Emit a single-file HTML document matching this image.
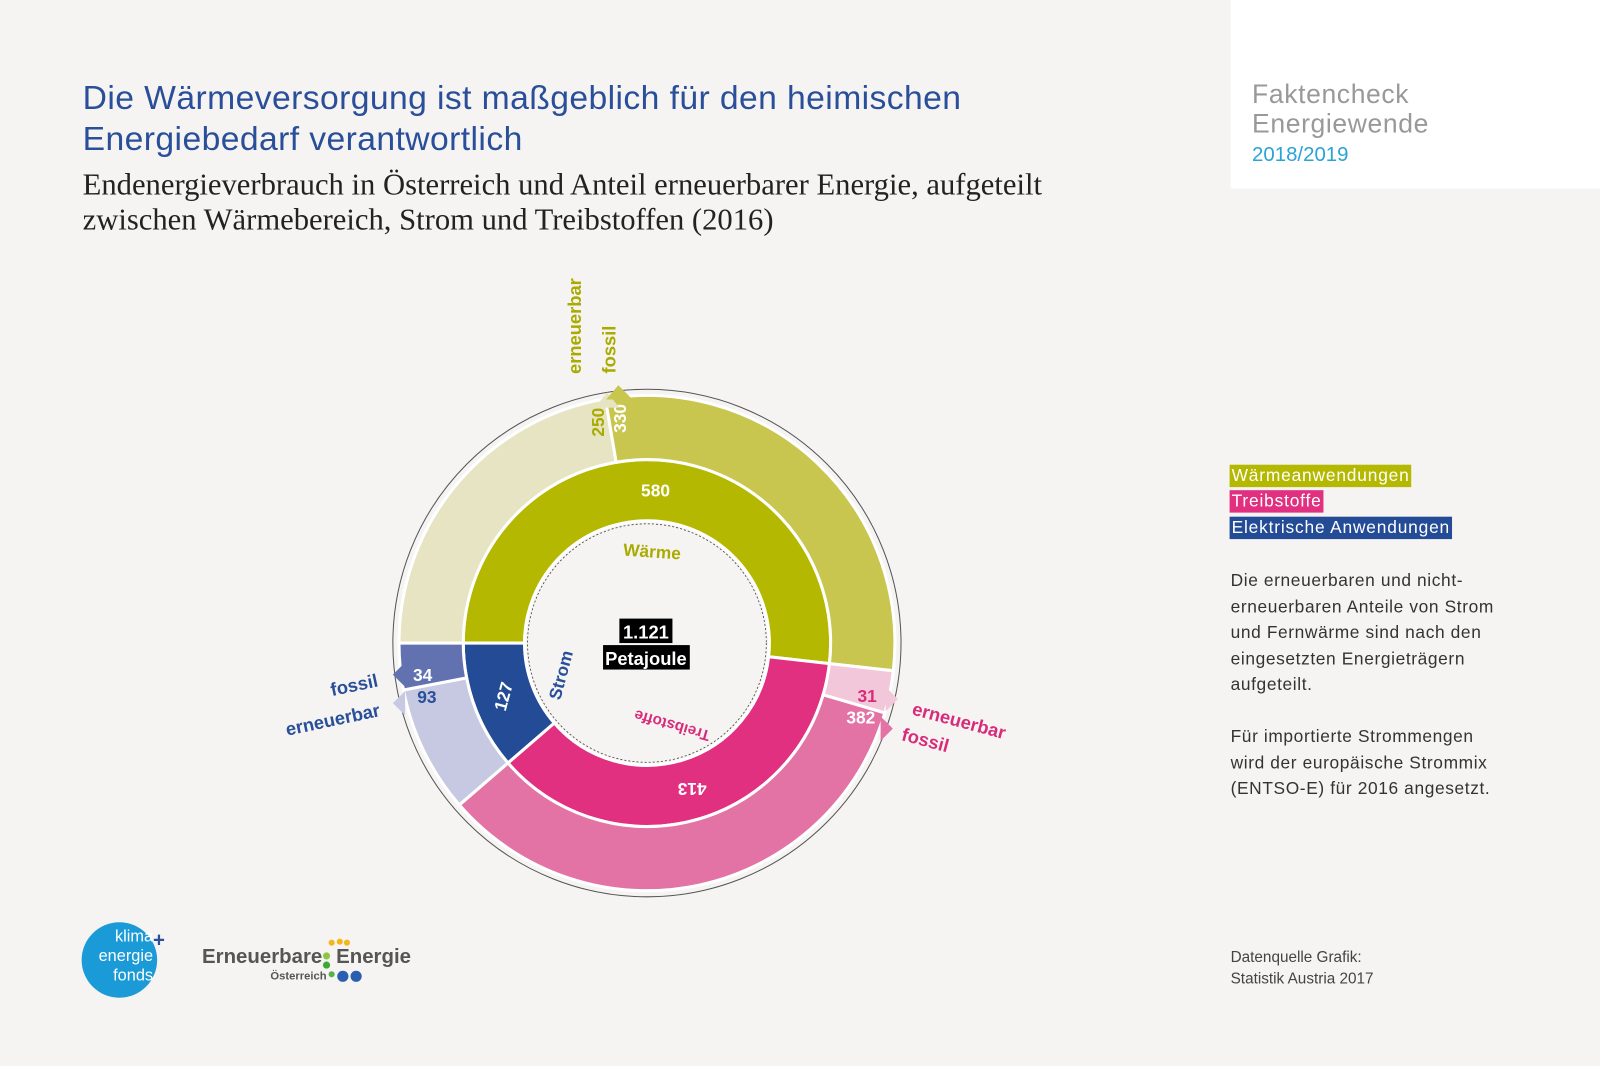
<!DOCTYPE html>
<html><head><meta charset="utf-8"><style>
html,body{margin:0;padding:0;background:#f5f4f2;width:1600px;height:1066px;overflow:hidden}
#wrap{position:absolute;left:0;top:0;width:1568px;height:1046px;transform:scale(1.0204,1.0191);transform-origin:0 0;font-family:"Liberation Sans",sans-serif}
.abs{position:absolute;white-space:nowrap}
.leg{position:absolute;left:1205px;font-size:17px;letter-spacing:0.8px;color:#fff;padding:0 2px;line-height:22px}
</style></head><body>
<div id="wrap">
<div class="abs" style="left:81px;top:76px;font-size:33px;letter-spacing:0.4px;color:#2a4f9a;line-height:40px">Die Wärmeversorgung ist maßgeblich für den heimischen<br>Energiebedarf verantwortlich</div>
<div class="abs" style="left:81px;top:165px;font-family:'Liberation Serif',serif;font-size:30px;color:#222;line-height:34px">Endenergieverbrauch in Österreich und Anteil erneuerbarer Energie, aufgeteilt<br>zwischen Wärmebereich, Strom und Treibstoffen (2016)</div>
<div class="abs" style="left:1206px;top:0;width:362px;height:185px;background:#fff"></div>
<div class="abs" style="left:1227px;top:78px;font-size:26px;letter-spacing:0.6px;color:#999;line-height:29px">Faktencheck<br>Energiewende</div>
<div class="abs" style="left:1227px;top:141px;font-size:20px;color:#29a3d8">2018/2019</div>
<div class="leg" style="top:456px;background:#b5b800">Wärmeanwendungen</div>
<div class="leg" style="top:481px;background:#e0307f">Treibstoffe</div>
<div class="leg" style="top:507px;background:#234b96">Elektrische Anwendungen</div>
<div class="abs" style="left:1206px;top:557px;font-size:17px;letter-spacing:0.6px;color:#333;line-height:25.5px">Die erneuerbaren und nicht-<br>erneuerbaren Anteile von Strom<br>und Fernwärme sind nach den<br>eingesetzten Energieträgern<br>aufgeteilt.<br><br>Für importierte Strommengen<br>wird der europäische Strommix<br>(ENTSO-E) für 2016 angesetzt.</div>
<div class="abs" style="left:1206px;top:929px;font-size:15px;color:#444;line-height:21px">Datenquelle Grafik:<br>Statistik Austria 2017</div>
<div class="abs" style="left:80px;top:905px;width:74px;height:74px;border-radius:50%;background:#1a9ad6"></div>
<div class="abs" style="left:82px;top:910px;font-size:16px;color:#fff;line-height:19px;text-align:right;width:68px">klima<br>energie<br>fonds</div>
<div class="abs" style="left:150px;top:912px;font-size:20px;color:#2a4f9a;font-weight:bold">+</div>
<div class="abs" style="left:198px;top:928px;font-size:20px;color:#555;font-weight:bold">Erneuerbare <span style="display:inline-block;width:8px"></span>Energie</div>
<div class="abs" style="left:265px;top:952px;font-size:11px;color:#555;font-weight:bold">Österreich</div>
<svg class="abs" style="left:312px;top:918px" width="45" height="50"><circle cx="13" cy="7" r="3" fill="#f3b71b"/><circle cx="21" cy="6" r="3" fill="#f3b71b"/><circle cx="28" cy="7" r="3" fill="#f3b71b"/><circle cx="8" cy="20" r="3.5" fill="#8dc63f"/><circle cx="8" cy="29" r="3.5" fill="#3aaa35"/><circle cx="24" cy="40" r="5.5" fill="#2a5fb0"/><circle cx="37" cy="40" r="5.5" fill="#2a5fb0"/><circle cx="13" cy="38" r="3" fill="#5bb04a"/></svg>

<svg class="abs" id="chart" style="left:0;top:0" width="1568" height="1046"></svg>
</div>
<script>
const categories=["Wärme","Treibstoffe","Strom"];
const totals=[580,413,127];
const renewable=[250,31,93];
const fossil=[330,382,34];
const grandTotalLabel="1.121";
const innerColors=["#b5b800","#e0307f","#234b96"];
const renColors=["#e6e4c3","#f2c7da","#c6c9e1"];
const fosColors=["#c9c64f","#e473a5","#6272b0"];
const labelColors=["#a9ab00","#d82c7a","#2a4f9a"];

const svg=document.getElementById('chart');
const NS="http://www.w3.org/2000/svg";
const cx=634,cy=631,r0=120,r1=180,r2=243;
const total=totals.reduce((a,b)=>a+b,0);
function ang(v){return (180+v/total*360)*Math.PI/180;}
function pt(r,a){return [cx+r*Math.cos(a),cy+r*Math.sin(a)];}
function arc(ri,ro,a0,a1){
  const large=(a1-a0)>Math.PI?1:0;
  const p1=pt(ro,a0),p2=pt(ro,a1),p3=pt(ri,a1),p4=pt(ri,a0);
  return `M${p1}A${ro},${ro} 0 ${large} 1 ${p2}L${p3}A${ri},${ri} 0 ${large} 0 ${p4}Z`;
}
function mk(tag,attrs){const e=document.createElementNS(NS,tag);for(const k in attrs)e.setAttribute(k,attrs[k]);svg.appendChild(e);return e;}
function txt(s,x,y,rot,attrs){const t=mk('text',Object.assign({x:0,y:0,transform:`translate(${x},${y}) rotate(${rot})`,'text-anchor':'middle','dominant-baseline':'central','font-family':'Liberation Sans, sans-serif','font-weight':'bold'},attrs));t.textContent=s;return t;}

const outline=mk('circle',{cx,cy,r:249,fill:'none',stroke:'#555','stroke-width':1});


const inner=mk('circle',{cx,cy,r:r0,fill:'#f5f4f2'});


const dash=mk('circle',{cx,cy,r:117,fill:'none',stroke:'#444','stroke-width':0.8,'stroke-dasharray':'2,2'});



let cum=0;
categories.forEach((c,i)=>{
  const a0=ang(cum),a1=ang(cum+totals[i]),am=ang(renewable[i]+cum);
  const p=mk('path',{d:arc(r0,r1,a0,a1),fill:innerColors[i],stroke:'#fff','stroke-width':3});
  
  
  const pr=mk('path',{d:arc(r1,r2,a0,am),fill:renColors[i],stroke:'#fff','stroke-width':3});
  
  
  const pf=mk('path',{d:arc(r1,r2,am,a1),fill:fosColors[i],stroke:'#fff','stroke-width':3});
  
  
  const amid=(a0+a1)/2;
  const lp=pt(150,amid);
  const tv=txt(String(totals[i]),lp[0],lp[1],i==0?0:(i==1?180:-75),{fill:'#fff','font-size':17});
  
  
  const cp=pt(i==1?84:90,amid);
  const tc=txt(c,cp[0],cp[1],i==0?4:(i==1?196:-75),{fill:labelColors[i],'font-size':i==1?15:17});
  
  
  const off=0.05;
  const rp=pt(222,am-off),fp=pt(222,am+off);
  const r1t=txt(String(renewable[i]),rp[0],rp[1],i==0?-90:0,{fill:labelColors[i],'font-size':17});
  
  
  const f1t=txt(String(fossil[i]),fp[0],fp[1],i==0?-90:0,{fill:'#fff','font-size':17});
  
  
  cum+=totals[i];
});
[[595,385,583,400,607,400],[606,378,594,392,620,392],[880,686,868,674,868,698],[875,715,863,703,863,727],[385,662,397,650,397,674],[385,690,397,678,397,702]].forEach((t,k)=>{
  const e=mk('polygon',{points:`${t[0]},${t[1]} ${t[2]},${t[3]} ${t[4]},${t[5]}`,fill:[renColors[0],fosColors[0],renColors[1],fosColors[1],fosColors[2],renColors[2]][k]});
  
  
});
const outerLabels=[["erneuerbar",563,320,-90,0],["fossil",597,343,-90,0],["erneuerbar",940,707,15,1],["fossil",907,726,15,1],["fossil",347,672,-12,2],["erneuerbar",326,706,-12,2]];
outerLabels.forEach(l=>{
  const e=txt(l[0],l[1],l[2],l[3],{fill:labelColors[l[4]],'font-size':18});
  
  
});
const b1=mk('rect',{x:607,y:607,width:52,height:24,fill:'#000'});


const b2=mk('rect',{x:591,y:633,width:85,height:24,fill:'#000'});


const t1=txt(grandTotalLabel,633,620,0,{fill:'#fff','font-size':18});


const t2=txt("Petajoule",633,646,0,{fill:'#fff','font-size':18});


</script>
</body></html>
